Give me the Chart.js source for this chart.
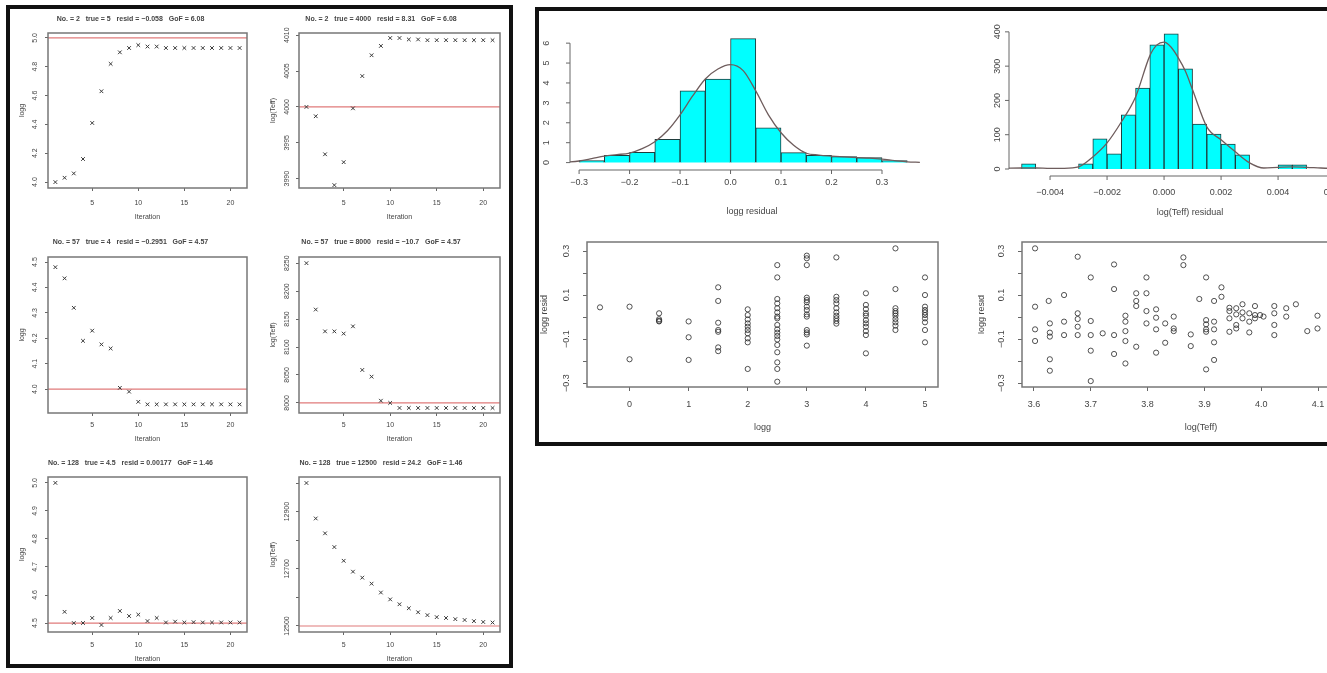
<!DOCTYPE html>
<html>
<head>
<meta charset="utf-8">
<script src="https://cdn.jsdelivr.net/npm/chart.js@4.4.1/dist/chart.umd.min.js"></script>
<style>
  html, body { margin: 0; padding: 0; background: #fff; overflow: hidden; width: 1327px; height: 673px; }
  canvas { position: absolute; }
  .frame { position: absolute; border: 4px solid #111; box-sizing: border-box; }
</style>
</head>
<body>
<div class="frame" style="left:6px;top:5px;width:507px;height:663px"></div>
<div class="frame" style="left:535px;top:7px;width:820px;height:439px"></div>
<canvas id="p1"></canvas><canvas id="p2"></canvas>
<canvas id="p3"></canvas><canvas id="p4"></canvas>
<canvas id="p5"></canvas><canvas id="p6"></canvas>
<canvas id="h1"></canvas><canvas id="h2"></canvas>
<canvas id="s1"></canvas><canvas id="s2"></canvas>
<script>
// ---------- data: fit iterations (left block) ----------
let iterations = [1, 2, 3, 4, 5, 6, 7, 8, 9, 10, 11, 12, 13, 14, 15, 16, 17, 18, 19, 20, 21];
let iterTicks = [5, 10, 15, 20];

let star2Logg = [4.00, 4.03, 4.06, 4.16, 4.41, 4.63, 4.82, 4.90, 4.93, 4.95, 4.94, 4.94, 4.93, 4.93, 4.93, 4.93, 4.93, 4.93, 4.93, 4.93, 4.93];
let star2Teff = [4000.0, 3998.7, 3993.4, 3989.1, 3992.3, 3999.8, 4004.3, 4007.2, 4008.5, 4009.6, 4009.6, 4009.4, 4009.4, 4009.3, 4009.3, 4009.3, 4009.3, 4009.3, 4009.3, 4009.3, 4009.3];
let star57Logg = [4.48, 4.436, 4.32, 4.19, 4.23, 4.176, 4.16, 4.005, 3.99, 3.95, 3.94, 3.94, 3.94, 3.94, 3.94, 3.94, 3.94, 3.94, 3.94, 3.94, 3.94];
let star57Teff = [8250, 8167, 8128, 8128, 8124, 8137, 8059, 8047, 8004, 8000, 7991, 7991, 7991, 7991, 7991, 7991, 7991, 7991, 7991, 7991, 7991];
let star128Logg = [5.0, 4.54, 4.50, 4.50, 4.518, 4.493, 4.518, 4.543, 4.525, 4.53, 4.507, 4.518, 4.502, 4.505, 4.502, 4.503, 4.502, 4.502, 4.502, 4.502, 4.502];
let star128Teff = [13000, 12876, 12824, 12776, 12728, 12690, 12669, 12648, 12617, 12593, 12576, 12562, 12548, 12538, 12531, 12528, 12524, 12521, 12517, 12514, 12512];

// ---------- data: residual histograms ----------
let loggBinMids = [-0.275, -0.225, -0.175, -0.125, -0.075, -0.025, 0.025, 0.075, 0.125, 0.175, 0.225, 0.275, 0.325];
let loggBinDensity = [0.1, 0.37, 0.52, 1.17, 3.6, 4.2, 6.23, 1.75, 0.5, 0.37, 0.3, 0.25, 0.1];
let loggCurveX = [-0.33, -0.3, -0.275, -0.25, -0.225, -0.2, -0.175, -0.15, -0.125, -0.1, -0.075, -0.05, -0.025, 0, 0.025, 0.05, 0.075, 0.1, 0.125, 0.15, 0.175, 0.2, 0.225, 0.25, 0.275, 0.3, 0.325, 0.35, 0.375];
let loggCurveY = [0.02, 0.08, 0.2, 0.33, 0.4, 0.48, 0.7, 1.05, 1.6, 2.4, 3.35, 4.2, 4.7, 4.92, 4.62, 3.6, 2.4, 1.5, 0.87, 0.47, 0.38, 0.33, 0.29, 0.25, 0.22, 0.17, 0.1, 0.04, 0.01];
let loggResTicks = [-0.3, -0.2, -0.1, 0, 0.1, 0.2, 0.3];
let loggDensTicks = [0, 1, 2, 3, 4, 5, 6];

let teffBinMids = [-0.00475, -0.00425, -0.00375, -0.00325, -0.00275, -0.00225, -0.00175, -0.00125, -0.00075, -0.00025, 0.00025, 0.00075, 0.00125, 0.00175, 0.00225, 0.00275, 0.00325, 0.00375, 0.00425, 0.00475];
let teffBinDensity = [15, 0, 0, 0, 15, 88, 44, 158, 236, 362, 394, 292, 131, 102, 73, 41, 0, 0, 12, 12];
let teffCurveX = [-0.0056, -0.005, -0.0045, -0.004, -0.0035, -0.003, -0.0025, -0.002, -0.0015, -0.001, -0.0005, -0.00025, 0, 0.00025, 0.0005, 0.00075, 0.001, 0.0015, 0.002, 0.0025, 0.003, 0.0035, 0.004, 0.0045, 0.005, 0.0055, 0.006, 0.0065, 0.007];
let teffCurveY = [2, 3, 3, 2, 2, 6, 35, 76, 137, 210, 330, 362, 370, 355, 324, 285, 231, 123, 85, 50, 18, 3, 5, 6, 5, 3, 2, 2, 1];
let teffResTicks = [-0.004, -0.002, 0, 0.002, 0.004, 0.006];
let teffDensTicks = [0, 100, 200, 300, 400];

// ---------- data: logg residual scatter ----------
let loggLevels = [-0.5, 0, 0.5, 1, 1.5, 2, 2.5, 3, 3.5, 4, 4.5, 5];
let loggResidByLevel = [
  [0.044],
  [0.047, -0.192],
  [0.017, -0.01, -0.02, -0.017],
  [-0.02, -0.092, -0.195],
  [0.135, 0.073, -0.026, -0.059, -0.067, -0.138, -0.155],
  [0.035, 0.009, -0.011, -0.029, -0.044, -0.059, -0.074, -0.097, -0.115, -0.236],
  [0.236, 0.18, 0.082, 0.062, 0.04, 0.021, 0.002, -0.006, -0.036, -0.056, -0.071, -0.086, -0.102, -0.127, -0.16, -0.206, -0.236, -0.294],
  [0.279, 0.267, 0.236, 0.088, 0.077, 0.067, 0.047, 0.032, 0.012, 0.002, -0.059, -0.07, -0.079, -0.13],
  [0.271, 0.092, 0.077, 0.062, 0.04, 0.021, 0.006, -0.006, -0.018, -0.03],
  [0.108, 0.055, 0.036, 0.017, 0.006, -0.014, -0.029, -0.044, -0.064, -0.082, -0.165],
  [0.312, 0.127, 0.04, 0.027, 0.017, 0.006, -0.009, -0.024, -0.039, -0.059],
  [0.18, 0.1, 0.047, 0.032, 0.021, 0.009, -0.006, -0.024, -0.059, -0.115]
];
let sampleTeff = [3.602, 3.602, 3.602, 3.602, 3.626, 3.628, 3.628, 3.628, 3.628, 3.628, 3.653, 3.653, 3.653, 3.677, 3.677, 3.677, 3.677, 3.677, 3.7, 3.7, 3.7, 3.7, 3.7, 3.721, 3.741, 3.741, 3.741, 3.741, 3.761, 3.761, 3.761, 3.761, 3.761, 3.78, 3.78, 3.78, 3.78, 3.798, 3.798, 3.798, 3.798, 3.815, 3.815, 3.815, 3.815, 3.831, 3.831, 3.846, 3.846, 3.846, 3.863, 3.863, 3.876, 3.876, 3.891, 3.903, 3.903, 3.903, 3.903, 3.903, 3.903, 3.917, 3.917, 3.917, 3.917, 3.917, 3.93, 3.93, 3.944, 3.944, 3.944, 3.944, 3.956, 3.956, 3.956, 3.956, 3.967, 3.967, 3.967, 3.979, 3.979, 3.979, 3.989, 3.989, 3.989, 3.998, 4.004, 4.023, 4.023, 4.023, 4.023, 4.044, 4.044, 4.061, 4.081, 4.099, 4.099];
let sampleTeffResid = [0.312, 0.047, -0.056, -0.109, 0.073, -0.029, -0.071, -0.089, -0.192, -0.244, 0.1, -0.021, -0.082, 0.274, 0.017, -0.009, -0.044, -0.082, 0.18, -0.018, -0.082, -0.153, -0.291, -0.074, 0.239, 0.127, -0.082, -0.168, 0.006, -0.021, -0.064, -0.109, -0.211, 0.108, 0.073, 0.05, -0.135, 0.18, 0.108, 0.027, -0.029, 0.035, -0.003, -0.056, -0.162, -0.029, -0.117, 0.002, -0.052, -0.064, 0.271, 0.236, -0.079, -0.132, 0.082, 0.18, -0.014, -0.033, -0.056, -0.067, -0.238, 0.073, -0.021, -0.056, -0.115, -0.195, 0.135, 0.092, 0.042, 0.027, -0.006, -0.067, 0.04, 0.012, -0.036, -0.052, 0.058, 0.021, -0.006, 0.017, -0.021, -0.07, 0.05, 0.009, -0.006, 0.009, 0.002, 0.05, 0.017, -0.036, -0.082, 0.04, 0.002, 0.058, -0.064, 0.006, -0.052];
let residTicks = [-0.3, -0.2, -0.1, 0, 0.1, 0.2, 0.3];
let loggTicks = [0, 1, 2, 3, 4, 5];
let teffTicks = [3.6, 3.7, 3.8, 3.9, 4.0, 4.1, 4.2];

// ---------- helpers ----------
const FONT = 'Liberation Sans, Arial, sans-serif';
const INK = '#444';
const minus = s => s.replace('-', '\u2212');

// box around the plot region
const frameBox = {
  id: 'frameBox',
  afterDatasetsDraw(chart, args, o) {
    if (!o.show) return;
    const { ctx, chartArea: a } = chart;
    ctx.save();
    ctx.strokeStyle = '#777';
    ctx.lineWidth = 1.5;
    ctx.strokeRect(a.left, a.top, a.right - a.left, a.bottom - a.top);
    ctx.restore();
  }
};
// horizontal reference line (true value)
const trueLine = {
  id: 'trueLine',
  beforeDatasetsDraw(chart, args, o) {
    if (o.value == null) return;
    const { ctx, chartArea: a } = chart;
    const y = chart.scales.y.getPixelForValue(o.value);
    ctx.save();
    ctx.strokeStyle = '#e07a7a';
    ctx.lineWidth = 1.2;
    ctx.beginPath();
    ctx.moveTo(a.left, y);
    ctx.lineTo(a.right, y);
    ctx.stroke();
    ctx.restore();
  }
};
// R style axis lines that only span the tick range
const rAxes = {
  id: 'rAxes',
  afterDraw(chart, args, o) {
    if (!o.show) return;
    const { ctx, chartArea: a, scales: { x, y } } = chart;
    const xp = x.ticks.map(t => x.getPixelForValue(t.value));
    const yp = y.ticks.map(t => y.getPixelForValue(t.value));
    ctx.save();
    ctx.strokeStyle = '#666';
    ctx.lineWidth = 1;
    ctx.beginPath();
    ctx.moveTo(xp[0], a.bottom); ctx.lineTo(xp[xp.length - 1], a.bottom);
    xp.forEach(p => { ctx.moveTo(p, a.bottom); ctx.lineTo(p, a.bottom + 4); });
    ctx.moveTo(a.left, yp[0]); ctx.lineTo(a.left, yp[yp.length - 1]);
    yp.forEach(p => { ctx.moveTo(a.left, p); ctx.lineTo(a.left - 4, p); });
    ctx.stroke();
    ctx.restore();
  }
};
Chart.register(frameBox, trueLine, rAxes);

const mctx = document.createElement('canvas').getContext('2d');
function widest(labels, size) {
  mctx.font = size + 'px ' + FONT;
  return Math.max(...labels.map(l => mctx.measureText(l).width));
}

// g: box [left, top, w, h], area [l, t, r, b], label / title positions
function build(id, g, datasets, opt) {
  const cv = document.getElementById(id);
  const [bl, bt, bw, bh] = g.box;
  const [al, at, ar, ab] = g.area;
  cv.width = bw; cv.height = bh;
  cv.style.left = bl + 'px'; cv.style.top = bt + 'px';
  const fs = opt.fs, lh = fs * 1.2, tl = opt.tl;
  const font = { family: FONT, size: fs, lineHeight: 1.2 };
  const yLabels = opt.yTicks.map(opt.yFmt);

  const plugins = {
    legend: { display: false },
    tooltip: { enabled: false },
    frameBox: { show: !!opt.frame },
    trueLine: { value: opt.trueVal },
    rAxes: { show: !!opt.rAxes }
  };
  let padTop = at - bt;
  if (opt.title) {
    const tfs = opt.titleFs, tlh = tfs * 1.2;
    const pt = g.titleY - bt - tlh / 2;
    plugins.title = {
      display: true, text: opt.title, color: INK,
      font: { family: FONT, size: tfs, weight: 'bold', lineHeight: 1.2 },
      padding: { top: pt, bottom: (at - bt) - tlh - pt }
    };
    padTop = 0;
  }
  const gridOn = tl > 0;
  const common = (ticks) => ({
    type: 'linear', offset: false,
    afterBuildTicks: s => { s.ticks = ticks.map(v => ({ value: v })); },
    grid: { display: gridOn, drawOnChartArea: false, drawTicks: true, tickLength: tl, color: '#666' },
    border: { display: false }
  });
  new Chart(cv, {
    type: opt.type || 'scatter',
    data: { datasets },
    options: {
      responsive: false, animation: false, events: [],
      layout: { padding: { top: padTop, right: (bl + bw) - ar, left: 0, bottom: 0 } },
      plugins,
      scales: {
        x: Object.assign(common(opt.xTicks), {
          min: opt.xMin, max: opt.xMax,
          afterFit: s => { s.height = (bt + bh) - ab; },
          ticks: { font, color: INK, autoSkip: false, maxRotation: 0, minRotation: 0,
                   padding: g.xLabY - ab - tl - lh / 2, callback: v => opt.xFmt(v) },
          title: { display: !!opt.xTitle, text: opt.xTitle, font, color: INK,
                   padding: { top: 0, bottom: (bt + bh) - g.xTitleY - lh / 2 } }
        }),
        y: Object.assign(common(opt.yTicks), {
          min: opt.yMin, max: opt.yMax,
          afterFit: s => { s.width = al - bl; },
          ticks: { font, color: INK, autoSkip: false, minRotation: 90, maxRotation: 90, crossAlign: 'center',
                   padding: al - g.yLabX - tl - widest(yLabels, fs) / 2, callback: v => opt.yFmt(v) },
          title: { display: !!opt.yTitle, text: opt.yTitle, font, color: INK,
                   padding: { top: (g.yTitleX || 0) - bl - lh / 2, bottom: 0 } }
        })
      }
    }
  });
}

// ---------- left block: iteration panels ----------
function iterSet(values) {
  return [{
    data: iterations.map((x, i) => ({ x, y: values[i] })),
    pointStyle: 'crossRot', pointRadius: 2.6, pointBorderWidth: 1,
    pointBorderColor: '#3a3a3a', pointBackgroundColor: '#3a3a3a'
  }];
}
const colL = { x: 14, w: 240, al: 48, ar: 247, yLabX: 35, yTitleX: 22 };
const colR = { x: 262, w: 246, al: 299, ar: 500, yLabX: 287, yTitleX: 273 };
const rows = [
  { y: 8, h: 220, at: 33, ab: 188, titleY: 19, xLabY: 203, xTitleY: 217 },
  { y: 230, h: 218, at: 257, ab: 413, titleY: 242, xLabY: 425, xTitleY: 439 },
  { y: 450, h: 216, at: 477, ab: 632, titleY: 463, xLabY: 645, xTitleY: 659 }
];
function cell(c, r) {
  return { box: [c.x, r.y, c.w, r.h], area: [c.al, r.at, c.ar, r.ab], titleY: r.titleY,
           xLabY: r.xLabY, xTitleY: r.xTitleY, yLabX: c.yLabX, yTitleX: c.yTitleX };
}
const iterBase = { fs: 7, titleFs: 7, tl: 3, frame: true, xMin: 0.2, xMax: 21.8, xTicks: iterTicks,
                   xFmt: v => String(v), xTitle: 'Iteration' };

build('p1', cell(colL, rows[0]), iterSet(star2Logg), Object.assign({}, iterBase, {
  title: 'No. = 2   true = 5   resid = \u22120.058   GoF = 6.08', yTitle: 'logg', trueVal: 5.0,
  yMin: 3.959, yMax: 5.034, yTicks: [4.0, 4.2, 4.4, 4.6, 4.8, 5.0], yFmt: v => v.toFixed(1) }));
build('p2', cell(colR, rows[0]), iterSet(star2Teff), Object.assign({}, iterBase, {
  title: 'No. = 2   true = 4000   resid = 8.31   GoF = 6.08', yTitle: 'log(Teff)', trueVal: 4000,
  yMin: 3988.7, yMax: 4010.3, yTicks: [3990, 3995, 4000, 4005, 4010], yFmt: v => String(v) }));
build('p3', cell(colL, rows[1]), iterSet(star57Logg), Object.assign({}, iterBase, {
  title: 'No. = 57   true = 4   resid = \u22120.2951   GoF = 4.57', yTitle: 'logg', trueVal: 4.0,
  yMin: 3.906, yMax: 4.52, yTicks: [4.0, 4.1, 4.2, 4.3, 4.4, 4.5], yFmt: v => v.toFixed(1) }));
build('p4', cell(colR, rows[1]), iterSet(star57Teff), Object.assign({}, iterBase, {
  title: 'No. = 57   true = 8000   resid = \u221210.7   GoF = 4.57', yTitle: 'log(Teff)', trueVal: 8000,
  yMin: 7982, yMax: 8261, yTicks: [8000, 8050, 8100, 8150, 8200, 8250], yFmt: v => String(v) }));
build('p5', cell(colL, rows[2]), iterSet(star128Logg), Object.assign({}, iterBase, {
  title: 'No. = 128   true = 4.5   resid = 0.00177   GoF = 1.46', yTitle: 'logg', trueVal: 4.5,
  yMin: 4.468, yMax: 5.021, yTicks: [4.5, 4.6, 4.7, 4.8, 4.9, 5.0], yFmt: v => v.toFixed(1) }));
build('p6', cell(colR, rows[2]), iterSet(star128Teff), Object.assign({}, iterBase, {
  title: 'No. = 128   true = 12500   resid = 24.2   GoF = 1.46', yTitle: 'log(Teff)', trueVal: 12500,
  yMin: 12479, yMax: 13021, yTicks: [12500, 12600, 12700, 12800, 12900, 13000],
  yFmt: v => (v === 12500 || v === 12700 || v === 12900) ? String(v) : '' }));

// ---------- right block: histograms ----------
function histSets(mids, dens, cx, cy) {
  return [
    { type: 'bar', order: 1, data: mids.map((x, i) => ({ x, y: dens[i] })), backgroundColor: '#00ffff',
      borderColor: '#1e3c3c', borderWidth: 1, barPercentage: 1, categoryPercentage: 1 },
    { type: 'line', order: 0, data: cx.map((x, i) => ({ x, y: cy[i] })), borderColor: '#6e5c5c',
      borderWidth: 1.3, pointRadius: 0, cubicInterpolationMode: 'monotone', fill: false }
  ];
}
build('h1', { box: [538, 8, 410, 218], area: [570, 23, 934, 170], xLabY: 183, xTitleY: 212, yLabX: 547 },
  histSets(loggBinMids, loggBinDensity, loggCurveX, loggCurveY), {
    type: 'bar', fs: 9, tl: 0, rAxes: true,
    xMin: -0.318, xMax: 0.403, xTicks: loggResTicks, xFmt: v => minus(v.toFixed(1)), xTitle: 'logg residual',
    yMin: -0.372, yMax: 6.465, yTicks: loggDensTicks, yFmt: v => String(v) });
build('h2', { box: [975, 8, 430, 218], area: [1009, 25, 1371, 176], xLabY: 193, xTitleY: 213, yLabX: 998 },
  histSets(teffBinMids, teffBinDensity, teffCurveX, teffCurveY), {
    type: 'bar', fs: 9, tl: 0, rAxes: true,
    xMin: -0.00544, xMax: 0.00726, xTicks: teffResTicks, xFmt: v => minus(v.toFixed(3)), xTitle: 'log(Teff) residual',
    yMin: -20.4, yMax: 420, yTicks: teffDensTicks, yFmt: v => String(v) });

// ---------- right block: residual scatter ----------
const circleStyle = { pointStyle: 'circle', pointRadius: 2.6, pointBorderWidth: 1,
                      pointBorderColor: 'rgba(40,40,40,0.8)', pointBackgroundColor: 'rgba(0,0,0,0)' };
const residFmt = v => {
  const k = Math.round(v * 10);
  return Math.abs(k) % 2 === 1 ? minus(v.toFixed(1)) : '';
};
build('s1', { box: [538, 228, 405, 214], area: [587, 242, 940, 387], xLabY: 405, xTitleY: 428, yLabX: 567, yTitleX: 545 },
  [Object.assign({ data: loggLevels.flatMap((g, i) => loggResidByLevel[i].map(r => ({ x: g, y: r }))) }, circleStyle)], {
    fs: 9, tl: 4, frame: true,
    xMin: -0.72, xMax: 5.22, xTicks: loggTicks, xFmt: v => String(v), xTitle: 'logg',
    yMin: -0.318, yMax: 0.341, yTicks: residTicks, yFmt: residFmt, yTitle: 'logg resid' });
build('s2', { box: [978, 228, 430, 214], area: [1022, 242, 1380, 387], xLabY: 405, xTitleY: 428, yLabX: 1002, yTitleX: 982 },
  [Object.assign({ data: sampleTeff.map((x, i) => ({ x, y: sampleTeffResid[i] })) }, circleStyle)], {
    fs: 9, tl: 4, frame: true,
    xMin: 3.579, xMax: 4.209, xTicks: teffTicks, xFmt: v => v.toFixed(1), xTitle: 'log(Teff)',
    yMin: -0.318, yMax: 0.341, yTicks: residTicks, yFmt: residFmt, yTitle: 'logg resid' });
</script>
</body>
</html>
